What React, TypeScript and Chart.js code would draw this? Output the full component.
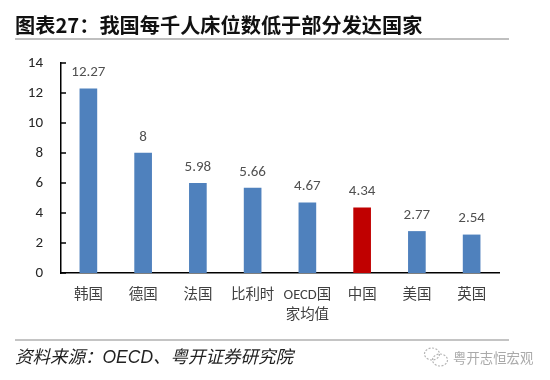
import React, { useEffect, useRef } from "react";
import { Chart, registerables } from "chart.js";

Chart.register(...registerables);

const titleText = "图表27：我国每千人床位数低于部分发达国家";
const sourceText = "资料来源：OECD、粤开证券研究院";
const watermarkText = "粤开志恒宏观";
const categories: (string | string[])[] = ["韩国", "德国", "法国", "比利时", ["OECD国", "家均值"], "中国", "美国", "英国"];
const values = [12.27, 8, 5.98, 5.66, 4.67, 4.34, 2.77, 2.54];
const valueLabels = ["12.27", "8", "5.98", "5.66", "4.67", "4.34", "2.77", "2.54"];
const barColors = ["#4f81bd", "#4f81bd", "#4f81bd", "#4f81bd", "#4f81bd", "#c00000", "#4f81bd", "#4f81bd"];
const FONT = '"Noto Sans CJK SC", "Noto Sans", sans-serif';
const LABEL_FONT = 'Carlito, Lato, "Noto Sans CJK SC", sans-serif';
const SOURCE_FONT = '"Liberation Sans", "Noto Sans CJK SC", sans-serif';

const extras = {
  id: "extras",
  afterDatasetsDraw(chart: any) {
    const { ctx, scales } = chart;
    const meta = chart.getDatasetMeta(0);
    ctx.save();
    ctx.fillStyle = "#505050";
    ctx.font = `15px ${LABEL_FONT}`;
    ctx.textAlign = "center";
    ctx.textBaseline = "alphabetic";
    meta.data.forEach((bar: any, i: number) => ctx.fillText(valueLabels[i], bar.x, bar.y - 12.5));
    ctx.strokeStyle = "#000";
    ctx.lineWidth = 1.5;
    const x0 = scales.x.left;
    scales.y.ticks.forEach((t: any) => {
      const y = scales.y.getPixelForValue(t.value);
      ctx.beginPath();
      ctx.moveTo(x0, y);
      ctx.lineTo(x0 + 5, y);
      ctx.stroke();
    });
    ctx.restore();
  },
};

export default function App() {
  const ref = useRef<HTMLCanvasElement>(null);
  useEffect(() => {
    const chart = new Chart(ref.current!, {
      type: "bar",
      data: {
        labels: categories as any,
        datasets: [{ data: values, backgroundColor: barColors, barThickness: 17 }],
      },
      options: {
        animation: false,
        responsive: false,
        layout: { padding: { top: 63, right: 51, bottom: 0, left: 0 } },
        plugins: { legend: { display: false }, tooltip: { enabled: false } },
        scales: {
          x: {
            grid: { display: false, drawTicks: false },
            border: { color: "#000", width: 1.5 },
            afterFit: (s: any) => { s.height = 107; },
            ticks: { color: "#404040", font: { size: 14.5, family: LABEL_FONT, lineHeight: 1.38 }, padding: 12, maxRotation: 0, autoSkip: false },
          },
          y: {
            min: 0,
            max: 14,
            grid: { display: false, drawTicks: false },
            border: { color: "#000", width: 1.5 },
            afterFit: (s: any) => { s.width = 61; },
            ticks: { stepSize: 2, color: "#262626", font: { size: 15, family: LABEL_FONT }, padding: 18 },
          },
        },
      },
      plugins: [extras],
    });
    return () => chart.destroy();
  }, []);

  const abs = (o: React.CSSProperties): React.CSSProperties => ({ position: "absolute", whiteSpace: "nowrap", ...o });
  return (
    <div style={abs({ left: 0, top: 0, width: 550, height: 380, background: "#fff", overflow: "hidden" })}>
      <canvas ref={ref} width={550} height={380} style={abs({ left: 0, top: 0, display: "block" })} />
      <div style={abs({ left: 15, top: 12, fontFamily: FONT, fontWeight: 700, fontSize: 20.2, lineHeight: "26px", color: "#111" })}>{titleText}</div>
      <div style={abs({ left: 15, top: 38, width: 494, height: 2, background: "#bfbfbf" })} />
      <div style={abs({ left: 15, top: 339, width: 494, height: 2, background: "#c4c4c4" })} />
      <div style={abs({ left: 15, top: 346, fontFamily: SOURCE_FONT, fontStyle: "italic", fontSize: 17.5, lineHeight: "22px", color: "#222" })}>{sourceText}</div>
      <svg width={26} height={22} viewBox="0 0 26 22" style={abs({ left: 423, top: 346 })} fill="none" stroke="#b5b5b5" strokeWidth={1.2} strokeDasharray="2 1.5">
        <ellipse cx={9} cy={8} rx={7.5} ry={6} />
        <ellipse cx={17} cy={14} rx={7.5} ry={6} />
      </svg>
      <div style={abs({ left: 453, top: 347, fontFamily: FONT, fontSize: 13.4, lineHeight: "20px", color: "#aaa" })}>{watermarkText}</div>
    </div>
  );
}
